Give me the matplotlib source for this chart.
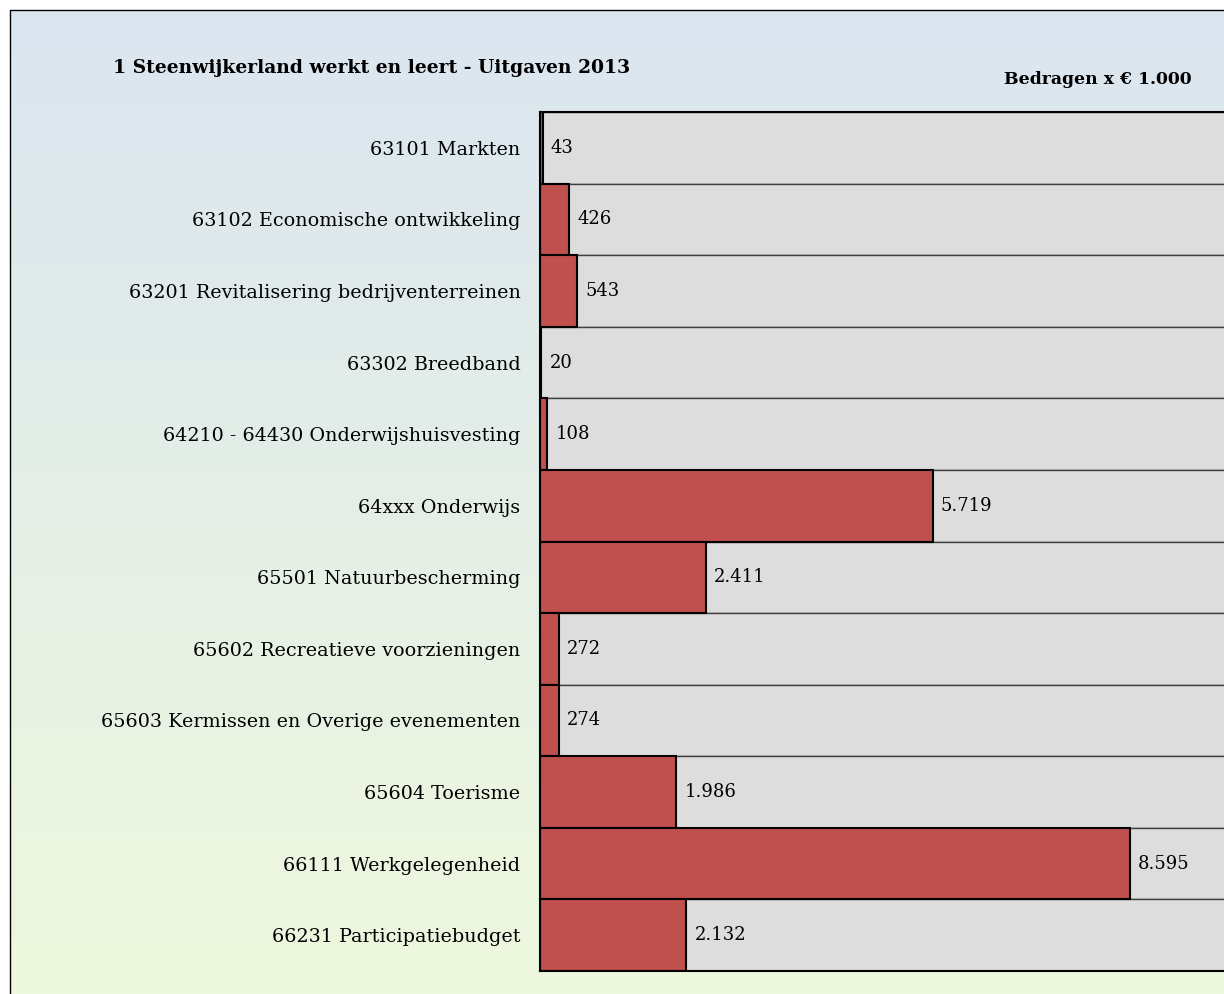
import numpy as np
import matplotlib.pyplot as plt
from matplotlib.patches import Rectangle

categories = ['63101 Markten', '63102 Economische ontwikkeling',
              '63201 Revitalisering bedrijventerreinen', '63302 Breedband',
              '64210 - 64430 Onderwijshuisvesting', '64xxx Onderwijs',
              '65501 Natuurbescherming', '65602 Recreatieve voorzieningen',
              '65603 Kermissen en Overige evenementen', '65604 Toerisme',
              '66111 Werkgelegenheid', '66231 Participatiebudget']
values = [43, 426, 543, 20, 108, 5719, 2411, 272, 274, 1986, 8595, 2132]
labels = ['43', '426', '543', '20', '108', '5.719', '2.411', '272', '274',
          '1.986', '8.595', '2.132']
background = 11000

plt.rcParams['font.family'] = ['DejaVu Serif']

fig = plt.figure(figsize=(12.24, 9.94), dpi=100)

# gradient backdrop
bg = fig.add_axes([0, 0, 1, 1], zorder=-10)
top = np.array([219, 229, 241]) / 255
bot = np.array([238, 248, 222]) / 255
t = np.linspace(0, 1, 256)[:, None]
grad = top[None, :] * (1 - t) + bot[None, :] * t
bg.imshow(grad[:, None, :], aspect='auto', extent=[0, 1, 0, 1], origin='upper')
bg.set_xlim(0, 1)
bg.set_ylim(0, 1)
bg.axis('off')
# white margin and frame
bg.add_patch(Rectangle((0, 1 - 10 / 994), 1, 10 / 994, color='white', zorder=2))
bg.add_patch(Rectangle((0, 0), 10 / 1224, 1, color='white', zorder=2))
bg.plot([10 / 1224, 10 / 1224, 1], [0, 1 - 10 / 994, 1 - 10 / 994], color='black', lw=1, zorder=3)

ax = fig.add_axes([540 / 1224, 23 / 994, 1 - 540 / 1224, (971 - 112) / 994])
ax.patch.set_visible(False)
y = np.arange(len(categories))
# 8595 sits at 590 px from the axis, axis is 684 px wide
xmax = 684 * 8595 / 590
ax.barh(y, [background] * len(y), height=1.0, color='#dddddd', edgecolor='#404040', linewidth=1.0)
ax.barh(y, values, height=1.0, color='#c0504d', edgecolor='black', linewidth=1.5)
ax.set_xlim(0, xmax)
ax.set_ylim(len(y) - 0.5, -0.5)
for yi, v, lab in zip(y, values, labels):
    ax.text(v + 8 / 684 * xmax, yi, lab, va='center', ha='left', fontsize=13)
ax.set_yticks(y)
ax.set_yticklabels(categories, fontsize=13.8)
ax.tick_params(axis='y', length=0, pad=14)
ax.set_xticks([])
ax.spines['right'].set_visible(False)
for s in ['left', 'bottom', 'top']:
    ax.spines[s].set_linewidth(1.5)

fig.text(113 / 1224, 1 - 68 / 994, '1 Steenwijkerland werkt en leert - Uitgaven 2013',
         fontsize=13.5, fontweight='bold', va='center', ha='left')
fig.text(1192 / 1224, 1 - 80 / 994, 'Bedragen x € 1.000', fontsize=12.4,
         fontweight='bold', va='center', ha='right')

fig.savefig('out.png', dpi=100)
